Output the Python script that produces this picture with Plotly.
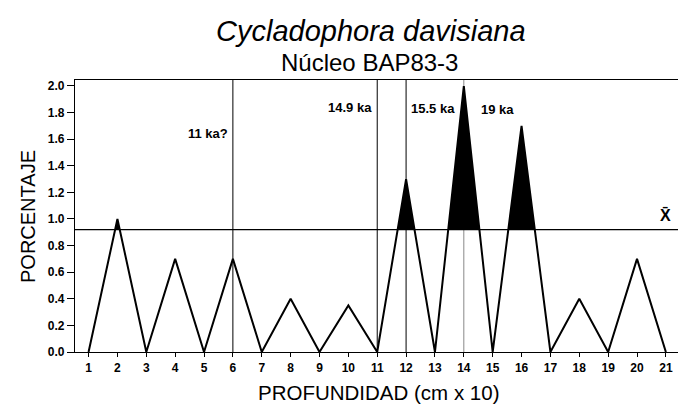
import plotly.graph_objects as go

# Data
depth = list(range(1, 22))
percent = [0, 1.0, 0, 0.7, 0, 0.7, 0, 0.4, 0, 0.35, 0, 1.3, 0, 2.0, 0, 1.7, 0, 0.4, 0, 0.7, 0]
mean_value = 0.92
event_depths = [6, 11, 12, 14]
event_labels = ["11 ka?", "14.9 ka", "15.5 ka", "19 ka"]
y_ticks = [0.0, 0.2, 0.4, 0.6, 0.8, 1.0, 1.2, 1.4, 1.6, 1.8, 2.0]

FONT = "Liberation Sans, Arial, Helvetica, sans-serif"

# densify at mean crossings for the filled areas above the mean
xd, yd = [], []
for i in range(len(depth)):
    if i > 0:
        y0, y1 = percent[i - 1], percent[i]
        if (y0 - mean_value) * (y1 - mean_value) < 0:
            t = (mean_value - y0) / (y1 - y0)
            xd.append(depth[i - 1] + t * (depth[i] - depth[i - 1]))
            yd.append(mean_value)
    xd.append(depth[i])
    yd.append(percent[i])
yclip = [max(v, mean_value) for v in yd]

fig = go.Figure()

# event vertical lines
for i, d in enumerate(event_depths):
    fig.add_shape(type="line", xref="x", yref="paper", x0=d, x1=d, y0=0, y1=1,
                  line=dict(color="black" if i < 3 else "#888888", width=1), layer="below")

# mean line
fig.add_shape(type="line", xref="paper", yref="y", x0=0, x1=1, y0=mean_value, y1=mean_value,
              line=dict(color="black", width=1.3), layer="below")

fig.add_trace(go.Scatter(x=xd, y=[mean_value] * len(xd), mode="lines",
                         line=dict(width=0, color="black"), hoverinfo="skip", showlegend=False))
fig.add_trace(go.Scatter(x=xd, y=yclip, mode="lines", fill="tonexty", fillcolor="black",
                         line=dict(width=0, color="black"), hoverinfo="skip", showlegend=False))
fig.add_trace(go.Scatter(x=depth, y=percent, mode="lines",
                         line=dict(color="black", width=2), showlegend=False))

PH = 272.0
annotations = [
    dict(text="<i>Cycladophora davisiana</i>", x=(371 - 75) / 603, y=(352 - 31) / PH, xref="paper", yref="paper",
         showarrow=False, font=dict(size=29, family=FONT, color="black"), xanchor="center", yanchor="middle"),
    dict(text="Núcleo BAP83-3", x=(369 - 75) / 603, y=(352 - 62) / PH, xref="paper", yref="paper",
         showarrow=False, font=dict(size=24, family=FONT, color="black"), xanchor="center", yanchor="middle"),
    dict(text="PROFUNDIDAD (cm x 10)", x=(378 - 75) / 603, y=(352 - 392) / PH, xref="paper", yref="paper",
         showarrow=False, font=dict(size=20.5, family=FONT, color="black"), xanchor="center", yanchor="middle"),
    dict(text="PORCENTAJE", x=(28 - 75) / 603, y=0.5, xref="paper", yref="paper", textangle=-90,
         showarrow=False, font=dict(size=20, family=FONT, color="black"), xanchor="center", yanchor="middle"),
    dict(text="<b>X̄</b>", x=21, y=1.03, xref="x", yref="y", showarrow=False,
         font=dict(size=16, family=FONT, color="black"), xanchor="center", yanchor="middle"),
]
label_pos = [(1.64, "right", -3), (1.84, "right", -3), (1.83, "left", 3), (1.82, "left", 15)]
for d, lab, (yy, anc, sh) in zip(event_depths, event_labels, label_pos):
    annotations.append(dict(text="<b>" + lab + "</b>", x=d, y=yy, xref="x", yref="y", showarrow=False,
                            xanchor=anc, xshift=sh, yanchor="middle",
                            font=dict(size=13, family=FONT, color="black")))

fig.update_layout(
    width=678, height=412,
    margin=dict(l=75, r=0, t=80, b=60),
    paper_bgcolor="white", plot_bgcolor="white",
    font=dict(family=FONT, color="black"),
    annotations=annotations,
    xaxis=dict(range=[0.53, 21.42], tickmode="array", tickvals=depth,
               ticktext=["<b>%d</b>" % d for d in depth],
               ticks="outside", ticklen=4, tickcolor="black", showline=True, linecolor="black",
               linewidth=1.3, mirror=True, showgrid=False, zeroline=False,
               tickfont=dict(size=12, family=FONT, color="black")),
    yaxis=dict(range=[0, 2.045], tickmode="array", tickvals=y_ticks,
               ticktext=["<b>%.1f</b>" % v for v in y_ticks],
               ticks="outside", ticklen=7, tickcolor="black", showline=True, linecolor="black",
               linewidth=1.3, showgrid=False, zeroline=False,
               tickfont=dict(size=12, family=FONT, color="black")),
)

fig.write_html("out.html", config={"displayModeBar": False},
               post_script="document.body.style.margin='0';document.body.style.overflow='hidden';")
